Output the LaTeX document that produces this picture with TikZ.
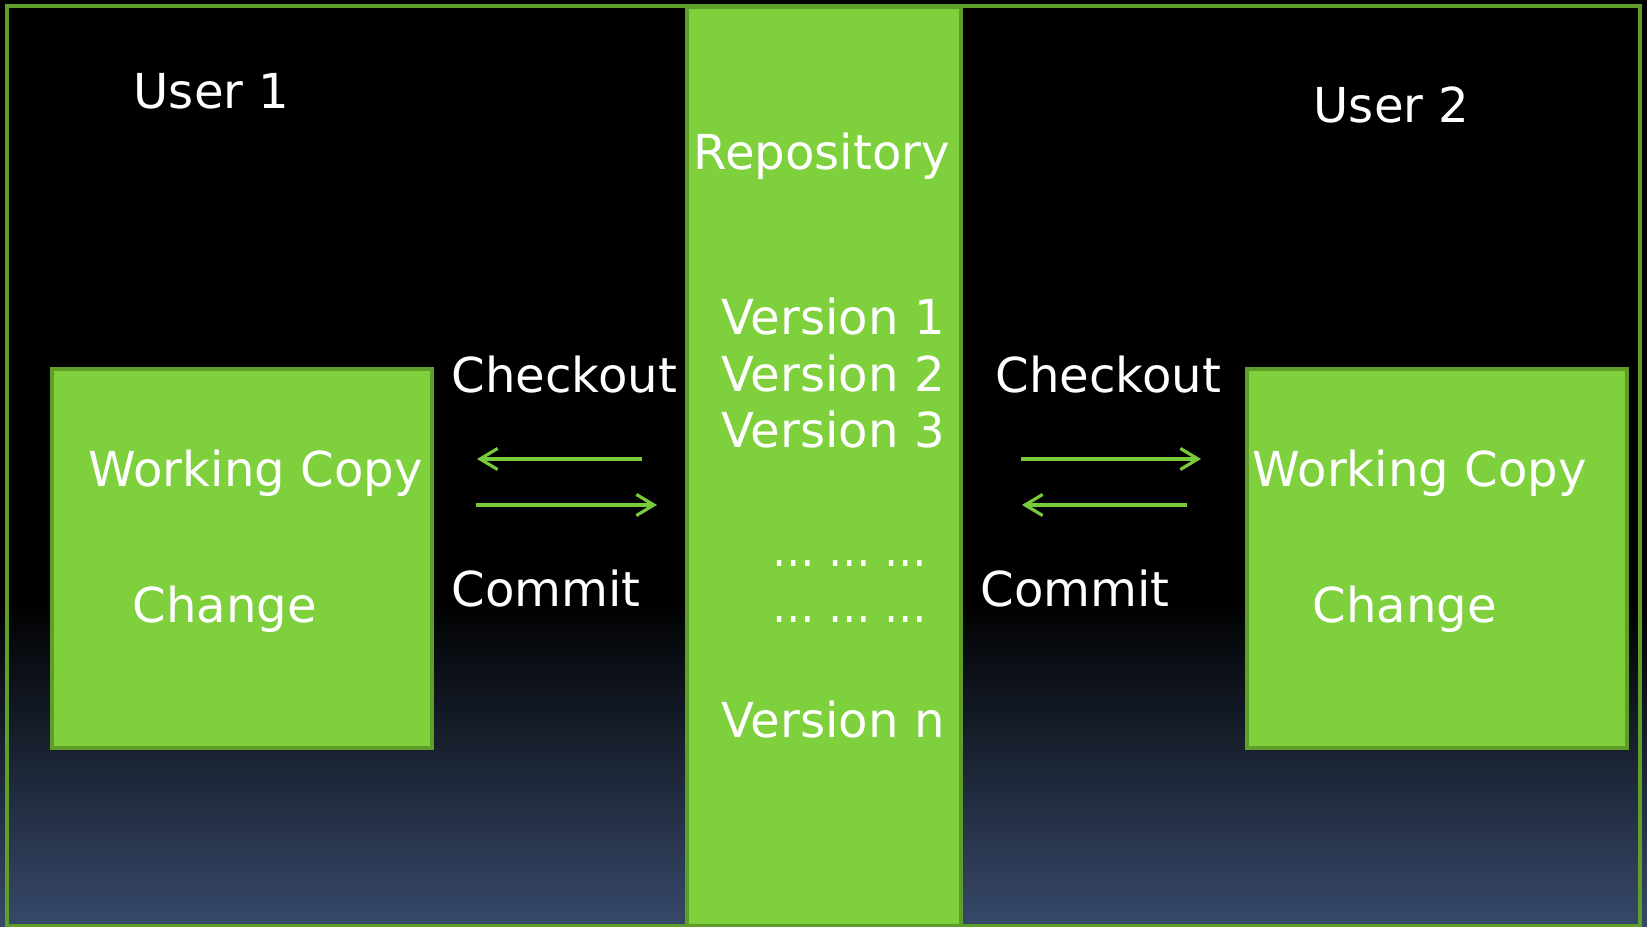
\documentclass[tikz,border=0pt]{standalone}
\usepackage{fontspec}
\setmainfont{DejaVu Sans}
\usepackage{xcolor}
\usetikzlibrary{arrows.meta}

\definecolor{leaf}{RGB}{126,208,60}
\definecolor{leafdark}{RGB}{96,158,42}
\definecolor{arrowgreen}{RGB}{120,202,58}
\definecolor{nightblue}{RGB}{55,73,106}

\begin{document}
\begin{tikzpicture}

% ---------- common style ----------
\tikzstyle{wcbox}=[draw=leafdark,fill=leaf,line width=1.1pt,minimum width=3.8cm,minimum height=3.79cm]
\tikzstyle{repocol}=[draw=leafdark,fill=leaf,line width=1.1pt,minimum width=2.74cm,minimum height=9.3cm]
\tikzstyle{txt}=[text=white,anchor=base west,inner sep=0pt,font=\fontsize{13.7}{16}\selectfont]
\tikzstyle{flow}=[draw=arrowgreen,line width=0.9pt,-{Straight Barb[length=5pt,width=6pt]}]

\useasboundingbox (0,0) rectangle (16.47,9.27);

% background: black, fading to blue at the bottom
\fill[black] (0,0) rectangle (16.47,9.27);
\shade[top color=black,bottom color=nightblue] (0,0) rectangle (16.47,3.27);

% ================== repository column ==================
\node[repocol] (repo) at (8.24,4.55) {};

% ================== working copies ==================
\node[wcbox] (wc1) at (2.42,3.685) {};
\node[wcbox] (wc2) at (14.37,3.685) {};

% outer frame
\draw[leafdark,line width=1pt] (0.07,0.01) rectangle (16.40,9.21);

% ---------- titles ----------
\node[txt] (user1) at (1.33,8.18) {User 1};
\node[txt] (user2) at (13.13,8.04) {User 2};
\node[txt] (repotitle) at (6.93,7.57) {Repository};

% ---------- versions ----------
\node[txt] (v1) at (7.21,5.92) {Version 1};
\node[txt] (v2) at (7.21,5.35) {Version 2};
\node[txt] (v3) at (7.21,4.79) {Version 3};
\node[txt,xscale=0.88,transform shape] (dots1) at (7.72,3.60) {… … …};
\node[txt,xscale=0.88,transform shape] (dots2) at (7.72,3.04) {… … …};
\node[txt] (vn) at (7.21,1.89) {Version n};

% ---------- box contents ----------
\node[txt] (wc1title) at (0.88,4.40) {Working Copy};
\node[txt] (wc1change) at (1.32,3.04) {Change};
\node[txt] (wc2title) at (12.52,4.40) {Working Copy};
\node[txt] (wc2change) at (13.12,3.04) {Change};

% ---------- actions ----------
\node[txt] (co1) at (4.51,5.34) {Checkout};
\node[txt] (ci1) at (4.51,3.20) {Commit};
\node[txt] (co2) at (9.95,5.34) {Checkout};
\node[txt] (ci2) at (9.80,3.20) {Commit};

% arrow ends
\coordinate (co1s) at (6.42,4.68);
\coordinate (co1e) at (4.77,4.68);
\coordinate (ci1s) at (4.76,4.22);
\coordinate (ci1e) at (6.57,4.22);
\coordinate (co2s) at (10.21,4.68);
\coordinate (co2e) at (12.01,4.68);
\coordinate (ci2s) at (11.87,4.22);
\coordinate (ci2e) at (10.22,4.22);

\draw[flow] (co1s) -- (co1e);
\draw[flow] (ci1s) -- (ci1e);
\draw[flow] (co2s) -- (co2e);
\draw[flow] (ci2s) -- (ci2e);

\end{tikzpicture}
\end{document}
